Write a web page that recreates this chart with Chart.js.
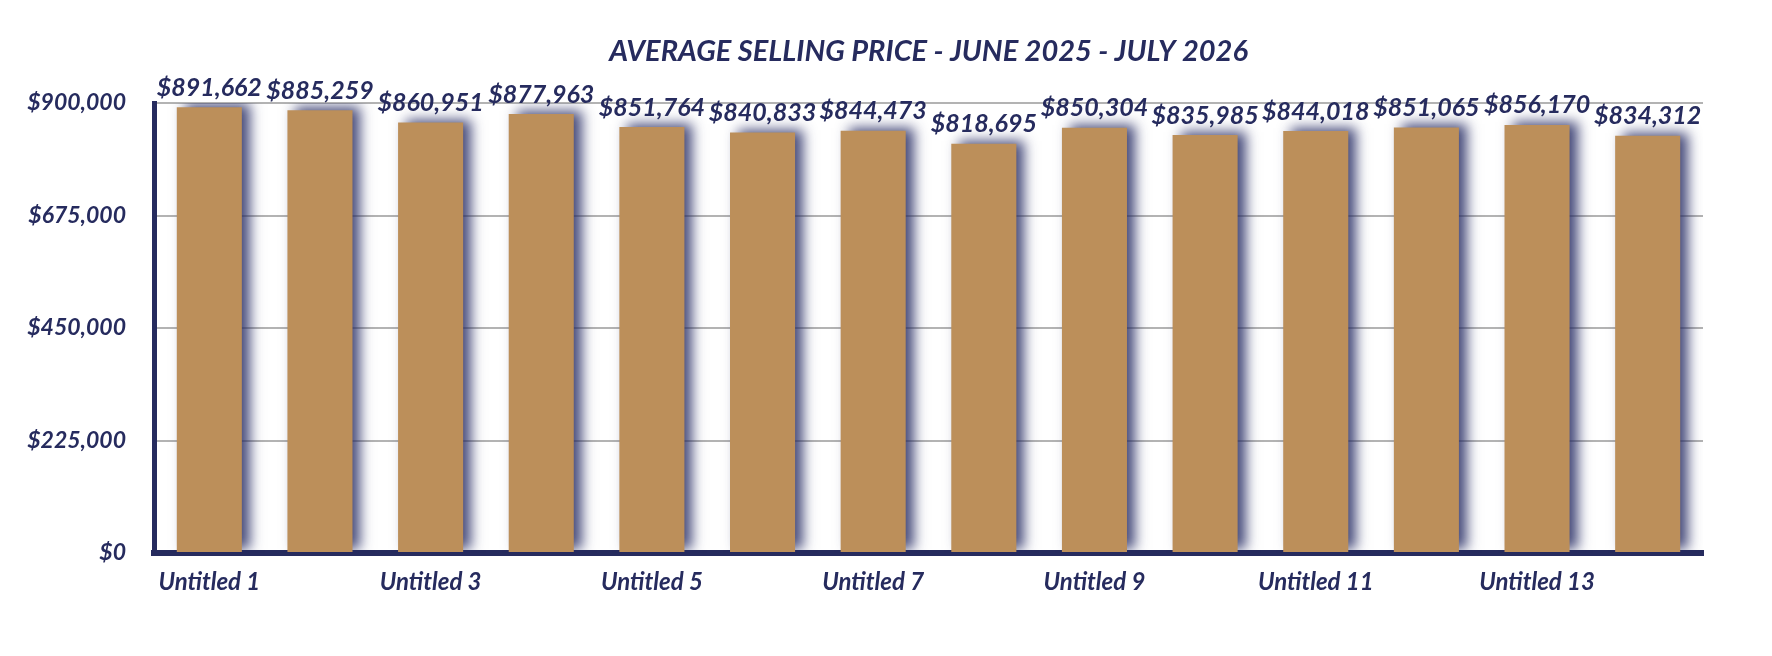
<!DOCTYPE html>
<html>
<head>
<meta charset="utf-8">
<script src="https://cdn.jsdelivr.net/npm/chart.js@4.4.1/dist/chart.umd.min.js"></script>
<style>
  html, body { margin: 0; padding: 0; background: #fff; }
  #wrap { width: 1772px; height: 656px; }
</style>
</head>
<body>
<div id="wrap"><canvas id="priceChart"></canvas></div>
<script>
const labels = ['Untitled 1', 'Untitled 2', 'Untitled 3', 'Untitled 4', 'Untitled 5', 'Untitled 6', 'Untitled 7',
    'Untitled 8', 'Untitled 9', 'Untitled 10', 'Untitled 11', 'Untitled 12', 'Untitled 13', 'Untitled 14'];
const prices = [891662, 885259, 860951, 877963, 851764, 840833, 844473,
    818695, 850304, 835985, 844018, 851065, 856170, 834312];
const yTicks = [0, 225000, 450000, 675000, 900000];
const titleText = 'AVERAGE SELLING PRICE - JUNE 2025 - JULY 2026';

const navy = '#262b5e';
const gold = '#bc8f5a';
const fontFamily = 'Lato, "Open Sans", sans-serif';

const money = v => '$' + v.toLocaleString('en-US');

// 棒の影
const barShadow = {
    id: 'barShadow',
    beforeDatasetsDraw(chart) {
        const ctx = chart.ctx;
        ctx.save();
        ctx.shadowColor = 'rgba(38, 43, 100, 0.85)';
        ctx.shadowBlur = 12;
        ctx.shadowOffsetX = 8;
        ctx.shadowOffsetY = -3;
    },
    afterDatasetsDraw(chart) {
        chart.ctx.restore();
    }
};

// タイトル（プロット領域の中央）と棒の上の値ラベル
const textLayer = {
    id: 'textLayer',
    afterDraw(chart) {
        const ctx = chart.ctx;
        const area = chart.chartArea;
        ctx.save();
        ctx.fillStyle = navy;
        ctx.textAlign = 'center';

        ctx.font = 'italic bold 29px ' + fontFamily;
        ctx.textBaseline = 'middle';
        ctx.fillText(titleText, (area.left + area.right) / 2, 52);

        ctx.font = 'italic bold 25px ' + fontFamily;
        ctx.textBaseline = 'bottom';
        chart.getDatasetMeta(0).data.forEach((bar, i) => {
            ctx.fillText(money(prices[i]), bar.x, bar.y - 7);
        });
        ctx.restore();
    }
};

const ctx = document.getElementById('priceChart').getContext('2d');
new Chart(ctx, {
    type: 'bar',
    data: {
        labels: labels,
        datasets: [{
            data: prices,
            backgroundColor: gold,
            borderWidth: 0,
            barPercentage: 0.588,
            categoryPercentage: 1
        }]
    },
    options: {
        responsive: true,
        maintainAspectRatio: false,
        animation: false,
        layout: { padding: { left: 0, right: 69, top: 103, bottom: 0 } },
        plugins: {
            legend: { display: false },
            tooltip: { enabled: false },
            title: { display: false }
        },
        scales: {
            x: {
                grid: { display: false },
                border: { color: navy, width: 6 },
                afterFit: scale => { scale.height = 103; },
                ticks: {
                    autoSkip: false,
                    maxRotation: 0,
                    padding: 7,
                    color: navy,
                    font: { family: fontFamily, size: 24, style: 'italic', weight: 'bold' },
                    callback: (value, index) => index % 2 === 0 ? labels[index] : ''
                }
            },
            y: {
                min: 0,
                max: 900000,
                afterFit: scale => { scale.width = 154; },
                afterBuildTicks: scale => { scale.ticks = yTicks.map(v => ({ value: v })); },
                grid: { color: '#b3b3b3', lineWidth: 2, drawTicks: false },
                border: { color: navy, width: 5 },
                ticks: {
                    padding: 28,
                    color: navy,
                    font: { family: fontFamily, size: 23, style: 'italic', weight: 'bold' },
                    callback: v => money(v)
                }
            }
        }
    },
    plugins: [barShadow, textLayer]
});
</script>
</body>
</html>
